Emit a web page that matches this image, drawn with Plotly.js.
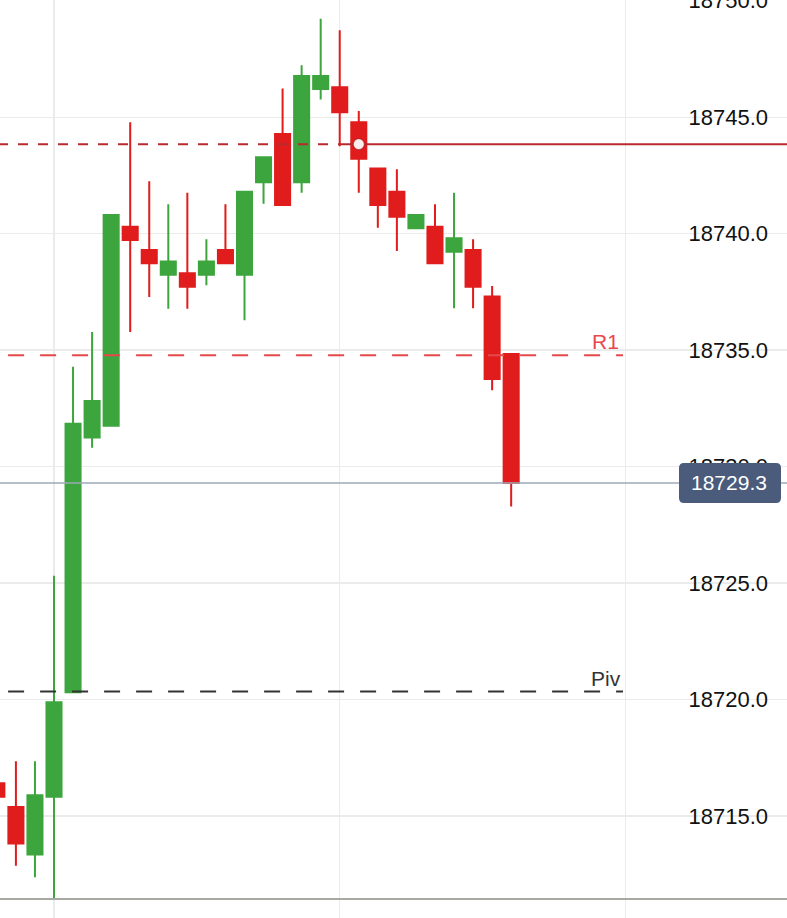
<!DOCTYPE html>
<html>
<head>
<meta charset="utf-8">
<script src="https://cdn.plot.ly/plotly-3.0.1.min.js"></script>
<style>html,body{margin:0;padding:0;background:#fff;}#chart{width:787px;height:918px;}</style>
</head>
<body>
<div id="chart"></div>
<script>
// Candle index (bar number) and OHLC values
var bars  = [-3,-2,-1,0,1,2,3,4,5,6,7,8,9,10,11,12,13,14,15,16,17,18,19,20,21,22,23,24];
var open  = [18716.40,18715.39,18713.35,18715.82,18720.31,18731.25,18731.75,18740.30,18739.30,18738.23,18738.30,18738.23,18739.30,18738.23,18742.21,18744.28,18742.21,18746.21,18746.28,18744.78,18742.80,18741.80,18740.23,18740.30,18739.22,18739.30,18737.30,18734.83];
var high  = [18716.60,18717.35,18717.35,18725.31,18734.28,18735.78,18740.80,18744.78,18742.25,18741.26,18741.75,18739.76,18741.26,18741.80,18743.28,18746.23,18747.23,18749.23,18748.73,18745.26,18742.80,18742.76,18740.80,18741.26,18741.75,18739.76,18737.75,18734.83];
var low   = [18715.60,18712.86,18712.37,18711.45,18720.31,18730.81,18731.75,18735.78,18737.28,18736.78,18736.78,18737.78,18738.73,18736.28,18741.28,18741.23,18741.75,18745.76,18743.75,18741.75,18740.25,18739.25,18740.23,18738.73,18736.80,18736.80,18733.28,18728.29];
var close = [18715.82,18713.82,18715.89,18719.88,18731.84,18732.82,18740.80,18739.73,18738.73,18738.80,18737.72,18738.80,18738.73,18741.80,18743.28,18741.23,18746.77,18746.77,18745.21,18743.21,18741.23,18740.72,18740.80,18738.73,18739.80,18737.72,18733.76,18729.30];

// Reference levels
var levelNames  = ['R1', 'Piv'];
var levelValues = [18734.78, 18720.34];
var entryBar = 16, entryPrice = 18743.84, entryLineStartBar = 15;
var lastPrice = 18729.3;
var axisBottom = 18711.44;

var GREEN = '#3da53d', RED = '#e01c1c';

var traces = [{
  type: 'candlestick',
  x: bars, open: open, high: high, low: low, close: close,
  increasing: {line: {color: GREEN, width: 2}, fillcolor: GREEN},
  decreasing: {line: {color: RED, width: 2}, fillcolor: RED},
  whiskerwidth: 0,
  hoverinfo: 'skip'
}];

var font = 'Liberation Sans, Arial, Helvetica, sans-serif';
var xr = [-2.835, 38.48];

var shapes = [
  {type:'line', xref:'paper', yref:'y', x0:0, x1:1, y0:axisBottom, y1:axisBottom, line:{color:'#a9a9a4', width:2}},
  {type:'line', xref:'paper', yref:'y', x0:0, x1:1, y0:lastPrice, y1:lastPrice, line:{color:'#9ea8b8', width:1.5}},
  {type:'line', xref:'x', yref:'y', x0:-4.09, x1:29.87, y0:levelValues[0], y1:levelValues[0], line:{color:'#e8474c', width:2, dash:'16px,16px'}},
  {type:'line', xref:'x', yref:'y', x0:-4.09, x1:29.87, y0:levelValues[1], y1:levelValues[1], line:{color:'#333333', width:2, dash:'16px,16px'}},
  {type:'line', xref:'x', yref:'y', x0:-2.94, x1:entryLineStartBar, y0:entryPrice, y1:entryPrice, line:{color:'#b9282d', width:2, dash:'10px,10px'}},
  {type:'line', xref:'x', yref:'y', x0:entryLineStartBar, x1:40, y0:entryPrice, y1:entryPrice, line:{color:'#b9282d', width:2}},
  {type:'path', xref:'paper', yref:'y', xsizemode:'pixel', ysizemode:'pixel', xanchor:1, yanchor:lastPrice,
   path:'M -103,-20 L -11,-20 Q -6,-20 -6,-15 L -6,15 Q -6,20 -11,20 L -103,20 Q -108,20 -108,15 L -108,-15 Q -108,-20 -103,-20 Z',
   fillcolor:'#4a5b7b', line:{width:0}},
  {type:'circle', xref:'x', yref:'y', xsizemode:'pixel', ysizemode:'pixel', xanchor:entryBar, yanchor:entryPrice,
   x0:-5.5, x1:5.5, y0:-5.5, y1:5.5, fillcolor:'#fdeeee', line:{color:'rgba(150,20,20,0.55)', width:1.2}}
];

var annotations = [
  {xref:'x', yref:'y', x:29.76, y:levelValues[0], text:levelNames[0], showarrow:false, xanchor:'right', yanchor:'bottom', font:{family:font, size:21, color:'#e8474c'}},
  {xref:'x', yref:'y', x:29.85, y:levelValues[1], text:levelNames[1], showarrow:false, xanchor:'right', yanchor:'bottom', font:{family:font, size:21, color:'#333333'}},
  {xref:'paper', yref:'y', x:728.5/787, y:lastPrice, text:lastPrice.toFixed(1), showarrow:false, xanchor:'center', yanchor:'middle', font:{family:font, size:21, color:'#ffffff'}}
];

var layout = {
  width: 787, height: 918,
  margin: {l:0, r:0, t:0, b:0, pad:0},
  paper_bgcolor: '#ffffff', plot_bgcolor: '#ffffff',
  showlegend: false,
  boxgap: 0.21, boxgroupgap: 0,
  xaxis: {range: xr, tick0: 0, dtick: 15, showgrid: true, gridcolor: '#ebebeb', gridwidth: 1.3,
          showticklabels: false, zeroline: false, showline: false, ticks: '',
          rangeslider: {visible: false}, fixedrange: true},
  yaxis: {range: [18710.62, 18750.03], tick0: 0, dtick: 5, tickformat: '.1f', side: 'right',
          ticklabelposition: 'inside', ticklabeloverflow: 'allow', ticklabelstandoff: 16,
          showgrid: true, gridcolor: '#ebebeb', gridwidth: 1.3, zeroline: false, showline: false, ticks: '',
          tickfont: {family: font, size: 22, color: '#111111'}, fixedrange: true},
  shapes: shapes,
  annotations: annotations,
  hovermode: false
};

Plotly.newPlot('chart', traces, layout, {displayModeBar: false, staticPlot: true});
</script>
</body>
</html>
